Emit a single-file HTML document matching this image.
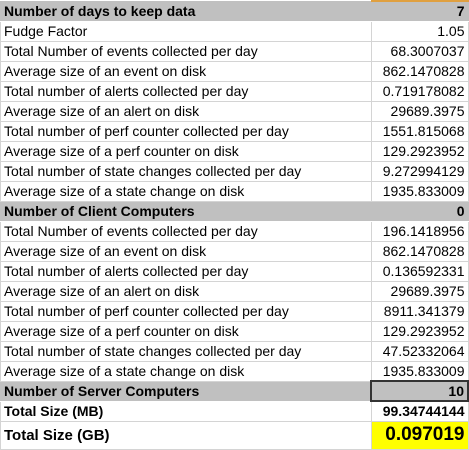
<!DOCTYPE html>
<html><head><meta charset="utf-8"><style>
body{margin:0;width:469px;height:450px;background:#fff;overflow:hidden;font-family:"Liberation Sans",sans-serif;font-size:14px;color:#000}
table{border-collapse:collapse;table-layout:fixed;position:absolute;left:0;top:0}
td{height:20px;padding:0 3px;border:1px solid #d4d4d4;white-space:nowrap;overflow:hidden;box-sizing:border-box}
td.v{text-align:right}
tr.h td{background:#c0c0c0;font-weight:bold;border-color:#c0c0c0 #c0c0c0 #fff #c0c0c0}
tr.b td{font-weight:bold}
</style></head><body>
<table>
<colgroup><col style="width:372px"><col style="width:97px"></colgroup>
<tr class="h"><td>Number of days to keep data</td><td class="v" style="border-top:2px solid #e0a040">7</td></tr>
<tr><td>Fudge Factor</td><td class="v">1.05</td></tr>
<tr><td>Total Number of events collected per day</td><td class="v">68.3007037</td></tr>
<tr><td>Average size of an event on disk</td><td class="v">862.1470828</td></tr>
<tr><td>Total number of alerts collected per day</td><td class="v">0.719178082</td></tr>
<tr><td>Average size of an alert on disk</td><td class="v">29689.3975</td></tr>
<tr><td>Total number of perf counter collected per day</td><td class="v">1551.815068</td></tr>
<tr><td>Average size of a perf counter on disk</td><td class="v">129.2923952</td></tr>
<tr><td>Total number of state changes collected per day</td><td class="v">9.272994129</td></tr>
<tr><td>Average size of a state change on disk</td><td class="v">1935.833009</td></tr>
<tr class="h"><td>Number of Client Computers</td><td class="v">0</td></tr>
<tr><td>Total Number of events collected per day</td><td class="v">196.1418956</td></tr>
<tr><td>Average size of an event on disk</td><td class="v">862.1470828</td></tr>
<tr><td>Total number of alerts collected per day</td><td class="v">0.136592331</td></tr>
<tr><td>Average size of an alert on disk</td><td class="v">29689.3975</td></tr>
<tr><td>Total number of perf counter collected per day</td><td class="v">8911.341379</td></tr>
<tr><td>Average size of a perf counter on disk</td><td class="v">129.2923952</td></tr>
<tr><td>Total number of state changes collected per day</td><td class="v">47.52332064</td></tr>
<tr><td>Average size of a state change on disk</td><td class="v">1935.833009</td></tr>
<tr class="h"><td>Number of Server Computers</td><td class="v" style="border:2px solid #333">10</td></tr>
<tr class="b"><td>Total Size (MB)</td><td class="v">99.34744144</td></tr>
<tr class="b"><td style="height:28px;font-size:15px">Total Size (GB)</td><td class="v" style="height:28px;background:#ffff00;font-size:19px">0.097019</td></tr>
</table>
</body></html>
